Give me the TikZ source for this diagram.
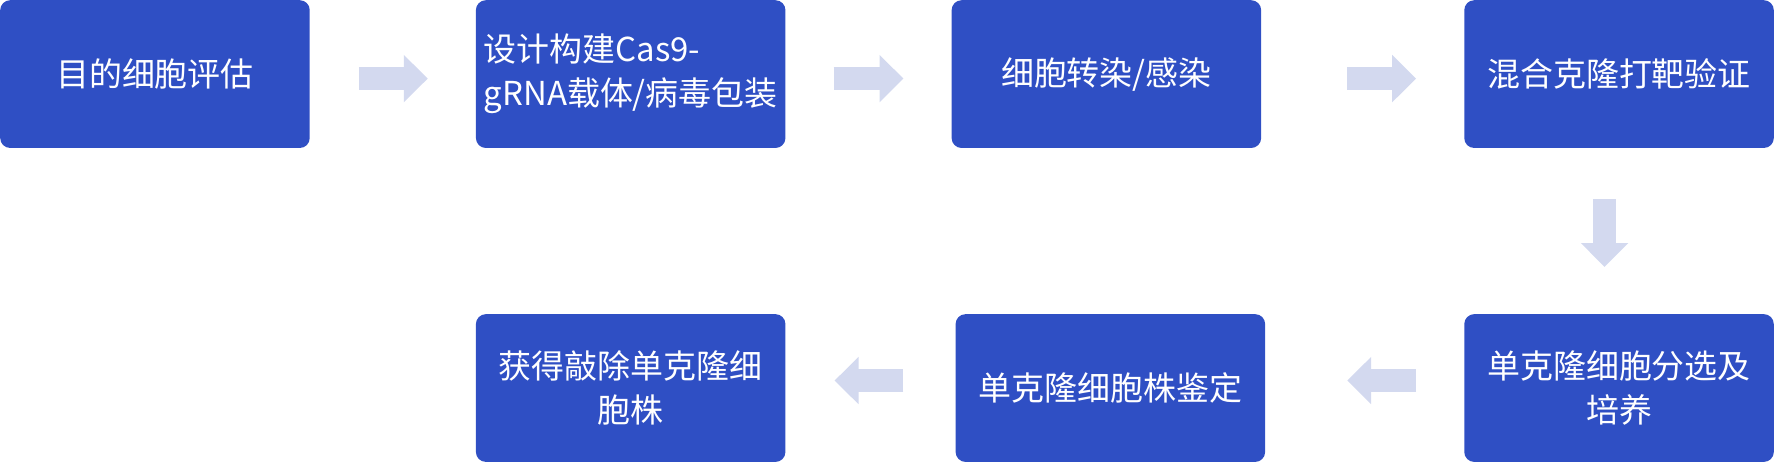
\documentclass[tikz,border=0pt]{standalone}
\usepackage{fontspec}
\newfontfamily\cjk{Noto Sans CJK SC}
\usetikzlibrary{arrows.meta,positioning}
\definecolor{boxblue}{HTML}{2F4FC4}
\definecolor{arrowgray}{HTML}{D3D9EF}

\begin{document}
\begin{tikzpicture}[
    node distance=166pt and 166pt,
    stage/.style={
        rectangle, rounded corners=10pt, draw=none, fill=boxblue,
        minimum width=310pt, minimum height=148pt, inner sep=0pt,
        font=\cjk\fontsize{33}{44}\selectfont, text=white, align=center
    },
    flow/.style={arrowgray, line width=23pt,
        -{Triangle[length=24pt, width=46pt]}}
]
% Nodes -- top row left to right, bottom row right to left
\node[stage] (eval) {目的细胞评估};
\node[stage, right=of eval, align=left] (vector) {设计构建Cas9-\\gRNA载体/病毒包装};
\node[stage, right=of vector] (transf) {细胞转染/感染};
\node[stage, right=203pt of transf] (pool) {混合克隆打靶验证};
\node[stage, below=of pool] (sort) {单克隆细胞分选及\\培养};
\node[stage, left=199pt of sort] (ident) {单克隆细胞株鉴定};
\node[stage, left=170pt of ident] (ko) {获得敲除单克隆细\\胞株};
% Flow arrows
\draw[flow] ([xshift=49pt, yshift=-4.5pt]eval.east) -- ([xshift=-48pt, yshift=-4.5pt]vector.west);
\draw[flow] ([xshift=48pt, yshift=-4.5pt]vector.east) -- ([xshift=-48pt, yshift=-4.5pt]transf.west);
\draw[flow] ([xshift=86pt, yshift=-4.5pt]transf.east) -- ([xshift=-48pt, yshift=-4.5pt]pool.west);
\draw[flow] ([xshift=-14.5pt, yshift=-51pt]pool.south) -- ([xshift=-14.5pt, yshift=47pt]sort.north);
\draw[flow] ([xshift=-48pt, yshift=7.5pt]sort.west) -- ([xshift=82pt, yshift=7.5pt]ident.east);
\draw[flow] ([xshift=-52pt, yshift=7.5pt]ident.west) -- ([xshift=49pt, yshift=7.5pt]ko.east);
% Frame
\useasboundingbox (eval.north west) rectangle ([xshift=1pt]sort.south east);
\end{tikzpicture}
\end{document}
